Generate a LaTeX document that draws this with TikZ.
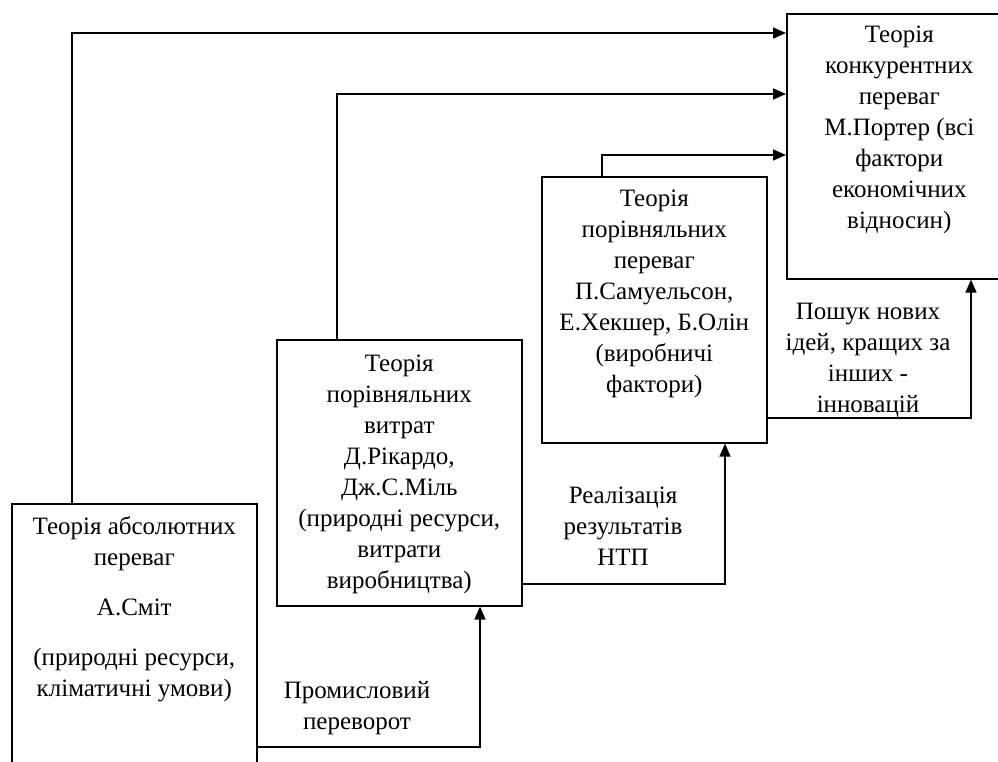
\documentclass[tikz,border=0pt]{standalone}
\usepackage{fontspec}
\setmainfont{Liberation Serif}
\usetikzlibrary{arrows.meta}
\usetikzlibrary{calc}
\usetikzlibrary{positioning}

\begin{document}
\begin{tikzpicture}[x=1pt, y=-1pt,
    box/.style={draw, line width=1.6pt, inner sep=0pt, anchor=north west},
    txt/.style={align=center, inner sep=0pt, font=\fontsize{25}{31}\selectfont},
    arr/.style={line width=1.6pt, -{Triangle[length=13pt,width=11pt]}}]
        % page frame
        \clip (0,0) rectangle (998,762);
        % boxes
        \node[box, minimum width=245pt, minimum height=290pt] (smith) at (11,503) {};
        \node[box, minimum width=245pt, minimum height=266pt] (ricardo) at (276,339) {};
        \node[box, minimum width=225pt, minimum height=266pt] (samuelson) at (541,176) {};
        \node[box, minimum width=225pt, minimum height=265pt] (porter) at (786,13) {};
        % box texts
        \node[txt, below=13pt of smith.north] (smith-txt)
        {Теорія абсолютних\\переваг\\[19pt]А.Сміт\\[19pt](природні ресурси,\\кліматичні умови)};
        \node[txt, below=16pt of ricardo.north] (ricardo-txt)
        {Теорія\\порівняльних\\витрат\\Д.Рікардо,\\Дж.С.Міль\\(природні ресурси,\\витрати\\виробництва)};
        \node[txt, below=14pt of samuelson.north] (samuelson-txt)
        {Теорія\\порівняльних\\переваг\\П.Самуельсон,\\Е.Хекшер, Б.Олін\\(виробничі\\фактори)};
        \node[txt, below=13pt of porter.north] (porter-txt)
        {Теорія\\конкурентних\\переваг\\М.Портер (всі\\фактори\\економічних\\відносин)};
        % bends of the connectors
        \coordinate (k1) at (72,33);
        \coordinate (k2) at (337,94);
        \coordinate (k3) at (602,155);
        \coordinate (b1) at (480,747);
        \coordinate (b2) at (725,584);
        \coordinate (b3) at (971,418);
        % arrows to Porter
        \draw[arr] (smith.north -| k1) |- (porter.west |- k1);
        \draw[arr] (ricardo.north -| k2) |- (porter.west |- k2);
        \draw[arr] (samuelson.north -| k3) |- (porter.west |- k3);
        % step arrows
        \draw[arr] (smith.east |- b1) -| (ricardo.south -| b1);
        \draw[arr] (ricardo.east |- b2) -| (samuelson.south -| b2);
        \draw[arr] (samuelson.east |- b3) -| (porter.south -| b3);
        % step labels
        \node[txt] (industry) at (357,708) {Промисловий\\переворот};
        \node[txt] (ntp) at (623,526) {Реалізація\\результатів\\НТП};
        \node[txt] (innov) at (868,360) {Пошук нових\\ідей, кращих за\\інших -\\інновацій};
    \end{tikzpicture}
\end{document}
